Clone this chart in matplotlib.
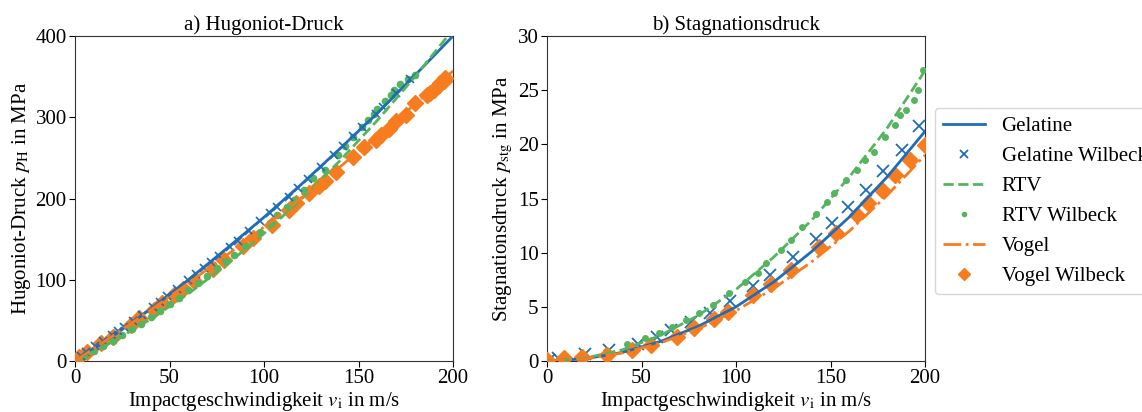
import matplotlib
matplotlib.use("Agg")
import matplotlib.pyplot as plt

plt.rcParams['font.family'] = ['Liberation Serif', 'DejaVu Serif']
plt.rcParams['mathtext.fontset'] = 'stix'

C_BLUE = '#1f6cb7'
C_GREEN = '#55b55f'
C_ORANGE = '#f77c20'

# ---- model curves ----
v_line = [0, 20, 40, 60, 80, 100, 120, 140, 160, 180, 200]
pH_gel = [0, 30.5, 64, 100, 138, 177, 218, 261, 305, 352, 400]
pH_rtv = [0, 23.9, 51.5, 82.9, 118.1, 157, 199.7, 246.1, 296.3, 350.3, 408]
pH_vog = [0, 30.8, 62.8, 95.8, 129.8, 165, 201.2, 238.6, 277, 316.4, 357]

ps_gel = [0, 0.2, 0.8, 1.8, 3.2, 5.0, 7.3, 10.1, 13.3, 17.0, 21.2]
ps_rtv = [0, 0.26, 1.04, 2.36, 4.2, 6.6, 9.6, 13.0, 17.0, 21.5, 26.8]
ps_vog = [0, 0.19, 0.74, 1.67, 2.97, 4.65, 6.7, 9.15, 12.0, 15.3, 19.0]

# ---- Wilbeck points, panel a ----
va_gel = [3, 6, 10.6, 15, 19.6, 22.8, 26, 30.7, 35.4, 41, 45, 48.7, 54, 60, 64, 68, 72, 76,
          82, 86, 92, 98, 103, 107, 113, 118, 123, 130, 137, 142, 147, 152, 159, 163, 170, 177]
pa_gel = [6, 11, 18, 25, 32, 37, 42, 49, 57, 67, 73, 80, 89, 100, 107, 114, 122, 129,
          140, 148, 160, 172, 182, 190, 202, 213, 224, 239, 254, 265, 277, 288, 304, 313, 330, 347]

va_rtv = [5, 10, 15, 20, 25, 30, 35, 40, 45, 50, 55, 60, 65, 70, 75, 80, 84, 90, 98, 103, 107,
          112, 116, 121, 126, 132, 139, 143, 147, 152, 155, 158, 160, 164, 167, 169, 172, 176, 180]
pa_rtv = [6, 12, 18, 25, 32, 39, 46, 54, 62, 70, 78, 87, 96, 105, 114, 123, 130, 141, 159, 170, 180,
          190, 198, 210, 225, 235, 253, 265, 276, 288, 297, 304, 310, 320, 327, 333, 341, 347, 352]

va_vog = [2, 6.5, 13.6, 20, 29.5, 34, 42, 46, 52.5, 57, 63, 73, 79, 89, 94, 104, 113, 117,
          124, 129, 132, 138, 147, 153, 159, 162, 166, 170, 175, 180, 186, 188, 190, 192, 193, 195, 196]
pa_vog = [5.3, 11.5, 21.7, 30, 44, 52.5, 63, 71, 81, 89, 98, 113, 124, 141, 151, 168, 186, 194,
          207, 215, 221, 233, 251, 264, 272, 278, 286, 295, 303, 317, 327, 330, 333, 338, 342, 345, 348]

# ---- Wilbeck points, panel b ----
vb_gel = [1, 6, 20, 33, 48, 58, 65.5, 76, 86, 97, 109, 118, 130, 142.5, 151, 159, 169, 178, 187.6, 197]
pb_gel = [0.1, 0.25, 0.65, 1.0, 1.6, 2.2, 2.9, 3.6, 4.4, 5.5, 6.9, 7.9, 9.6, 11.3, 12.7, 14.2, 15.8, 17.5, 19.5, 21.7]

vb_rtv = [2, 9, 20, 31, 42.5, 52, 59, 66, 73.5, 80.5, 87.6, 96.5, 105, 111.5, 116, 124, 129, 135,
          142.5, 148, 152, 158, 164, 168, 173, 179, 184, 187, 190, 194, 196.5, 199]
pb_rtv = [0.05, 0.2, 0.45, 0.95, 1.6, 2.1, 2.55, 3.1, 3.8, 4.4, 5.2, 6.25, 7.3, 8.1, 9.0, 10.2, 11.2, 12.4,
          13.6, 14.7, 15.5, 16.7, 17.6, 18.6, 19.3, 20.7, 21.8, 22.7, 23.2, 24.1, 25.0, 26.9]

vb_vog = [0, 9, 18.6, 32, 45, 55, 69, 78, 88.5, 95.6, 109, 118.6, 129, 144, 153, 164, 170, 177, 184, 192, 200]
pb_vog = [0.1, 0.25, 0.4, 0.55, 1.0, 1.5, 2.25, 3.0, 3.85, 4.55, 6.1, 7.15, 8.4, 10.55, 11.8, 13.5,
          14.55, 15.8, 17.2, 18.6, 19.95]

fig = plt.figure(figsize=(11.42, 4.12), dpi=100)
ax1 = fig.add_axes([0.0657, 0.1238, 0.331, 0.7888])
ax2 = fig.add_axes([0.479, 0.1238, 0.331, 0.7888])

FS = 15

# panel a
ax1.plot(va_vog, pa_vog, linestyle='none', marker='D', ms=8, color=C_ORANGE, zorder=3)
ax1.plot(va_rtv, pa_rtv, linestyle='none', marker='o', ms=4.5, color=C_GREEN, zorder=3)
ax1.plot(va_gel, pa_gel, linestyle='none', marker='x', ms=6, mew=1.2, color=C_BLUE, zorder=3)
ax1.plot(v_line, pH_gel, '-', lw=2, color=C_BLUE, zorder=4)
ax1.plot(v_line, pH_rtv, '--', lw=2, color=C_GREEN, zorder=4)
ax1.plot(v_line, pH_vog, '-.', lw=2, color=C_ORANGE, zorder=4)
ax1.set_xlim(0, 200)
ax1.set_ylim(0, 400)
ax1.set_xticks([0, 50, 100, 150, 200])
ax1.set_yticks([0, 100, 200, 300, 400])
ax1.set_title('a) Hugoniot-Druck', fontsize=FS, pad=4)
ax1.set_xlabel(r'Impactgeschwindigkeit $v_\mathrm{i}$ in m/s', fontsize=FS, labelpad=1)
ax1.set_ylabel(r'Hugoniot-Druck $p_\mathrm{H}$ in MPa', fontsize=FS, labelpad=2)

# panel b
h_gel, = ax2.plot(v_line, ps_gel, '-', lw=2, color=C_BLUE, zorder=4, label='Gelatine')
h_gelw, = ax2.plot(vb_gel, pb_gel, linestyle='none', marker='x', ms=8, mew=1.3, color=C_BLUE,
                   zorder=3, label='Gelatine Wilbeck')
h_rtv, = ax2.plot(v_line, ps_rtv, '--', lw=2, color=C_GREEN, zorder=4, label='RTV')
h_rtvw, = ax2.plot(vb_rtv, pb_rtv, linestyle='none', marker='o', ms=4, color=C_GREEN,
                   zorder=3, label='RTV Wilbeck')
h_vog, = ax2.plot(v_line, ps_vog, '-.', lw=2, color=C_ORANGE, zorder=4, label='Vogel')
h_vogw, = ax2.plot(vb_vog, pb_vog, linestyle='none', marker='D', ms=8, color=C_ORANGE,
                   zorder=3, label='Vogel Wilbeck')
ax2.set_xlim(0, 200)
ax2.set_ylim(0, 30)
ax2.set_xticks([0, 50, 100, 150, 200])
ax2.set_yticks([0, 5, 10, 15, 20, 25, 30])
ax2.set_title('b) Stagnationsdruck', fontsize=FS, pad=4)
ax2.set_xlabel(r'Impactgeschwindigkeit $v_\mathrm{i}$ in m/s', fontsize=FS, labelpad=1)
ax2.set_ylabel(r'Stagnationsdruck $p_\mathrm{stg}$ in MPa', fontsize=FS, labelpad=2)

for ax in (ax1, ax2):
    ax.tick_params(labelsize=FS, length=4, width=0.8, pad=2)
    for s in ax.spines.values():
        s.set_linewidth(0.8)
        s.set_color('#333333')

fig.legend(handles=[h_gel, h_gelw, h_rtv, h_rtvw, h_vog, h_vogw],
           loc='upper left', bbox_to_anchor=(0.8187, 0.738), borderaxespad=0,
           fontsize=FS, frameon=True, handlelength=2.0, labelspacing=0.5,
           borderpad=0.4, handletextpad=0.8, markerscale=0.75)

fig.savefig('out.png', dpi=100)
